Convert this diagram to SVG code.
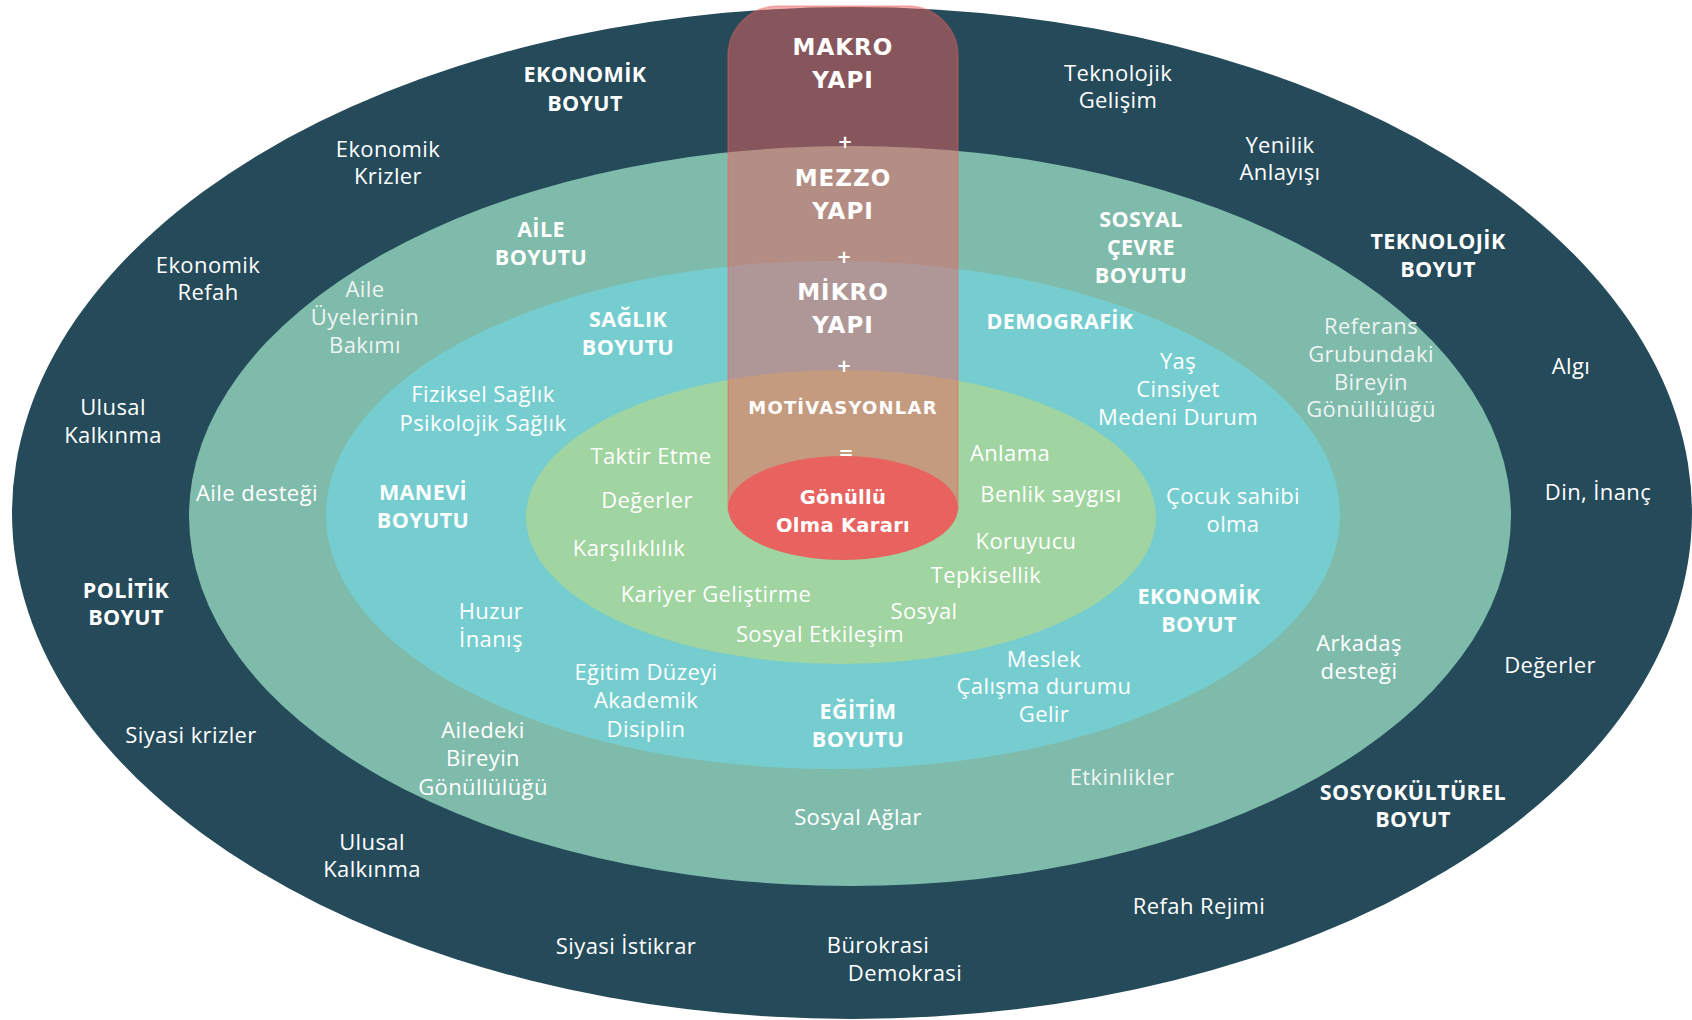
<svg xmlns="http://www.w3.org/2000/svg" width="1692" height="1020" viewBox="0 0 1692 1020">
<style>
.t{font-family:"Open Sans","Liberation Sans",sans-serif;font-size:22px;letter-spacing:0.4px;fill:#fff;text-anchor:middle}
.b{font-weight:700;font-size:21.5px}
.c{font-family:"DejaVu Sans","Liberation Sans",sans-serif;font-weight:700;font-size:23px;letter-spacing:1px;fill:#fff;text-anchor:middle}
.p{font-size:18px;letter-spacing:0}
.m{font-size:18px;letter-spacing:1.2px}
.g{font-size:19.5px;letter-spacing:0.3px}
.d{fill:#EEF4F2}
</style>
<rect width="1692" height="1020" fill="#fff"/>
<g id="rings">
<ellipse id="ring-makro" cx="852" cy="513" rx="840" ry="506" fill="#254A5A"/>
<ellipse id="ring-mezzo" cx="850" cy="516" rx="661" ry="370" fill="#7FBBAB"/>
<ellipse id="ring-mikro" cx="833" cy="515" rx="507" ry="254" fill="#76CDCF"/>
<ellipse id="ring-motivasyon" cx="841" cy="517" rx="315" ry="147" fill="#A0D4A0"/>
</g>
<g id="column">
<path d="M728,510 V56 A50,50 0 0 1 778,6 H908 A50,50 0 0 1 958,56 V510 Z" fill="#E9615F" fill-opacity="0.5" stroke="#E9615F" stroke-opacity="0.4" stroke-width="1.5"/>
<ellipse id="karar" cx="843" cy="508" rx="115" ry="52" fill="#E8635F"/>
</g>
<g id="column-text">
<text class="c" x="843" y="55">MAKRO</text>
<text class="c" x="843" y="88">YAPI</text>
<text class="c p" x="845" y="148">+</text>
<text class="c" x="843" y="186">MEZZO</text>
<text class="c" x="843" y="219">YAPI</text>
<text class="c p" x="844" y="263">+</text>
<text class="c" x="843" y="300">MİKRO</text>
<text class="c" x="843" y="333">YAPI</text>
<text class="c p" x="844" y="372">+</text>
<text class="c m" x="843" y="414">MOTİVASYONLAR</text>
<text class="c p" x="846" y="459">=</text>
<text class="c g" x="843" y="504">Gönüllü</text>
<text class="c g" x="843" y="532">Olma Kararı</text>
</g>
<g id="makro-text">
<text class="t b" x="585" y="82">EKONOMİK</text>
<text class="t b" x="585" y="111">BOYUT</text>
<text class="t" x="388" y="157">Ekonomik</text>
<text class="t" x="388" y="184">Krizler</text>
<text class="t" x="208" y="273">Ekonomik</text>
<text class="t" x="208" y="300">Refah</text>
<text class="t" x="113" y="415">Ulusal</text>
<text class="t" x="113" y="443">Kalkınma</text>
<text class="t b" x="126" y="598">POLİTİK</text>
<text class="t b" x="126" y="625">BOYUT</text>
<text class="t" x="191" y="743">Siyasi krizler</text>
<text class="t" x="372" y="850">Ulusal</text>
<text class="t" x="372" y="877">Kalkınma</text>
<text class="t" x="626" y="954">Siyasi İstikrar</text>
<text class="t" x="878" y="953">Bürokrasi</text>
<text class="t" x="905" y="981">Demokrasi</text>
<text class="t" x="1199" y="914">Refah Rejimi</text>
<text class="t b" x="1413" y="800">SOSYOKÜLTÜREL</text>
<text class="t b" x="1413" y="827">BOYUT</text>
<text class="t" x="1550" y="673">Değerler</text>
<text class="t" x="1598" y="500">Din, İnanç</text>
<text class="t" x="1571" y="374">Algı</text>
<text class="t b" x="1438" y="249">TEKNOLOJİK</text>
<text class="t b" x="1438" y="277">BOYUT</text>
<text class="t" x="1280" y="153">Yenilik</text>
<text class="t" x="1280" y="180">Anlayışı</text>
<text class="t" x="1118" y="81">Teknolojik</text>
<text class="t" x="1118" y="108">Gelişim</text>
</g>
<g id="mezzo-text">
<text class="t b" x="541" y="237">AİLE</text>
<text class="t b" x="541" y="265">BOYUTU</text>
<text class="t d" x="365" y="297">Aile</text>
<text class="t d" x="365" y="325">Üyelerinin</text>
<text class="t d" x="365" y="353">Bakımı</text>
<text class="t" x="257" y="501">Aile desteği</text>
<text class="t" x="483" y="738">Ailedeki</text>
<text class="t" x="483" y="766">Bireyin</text>
<text class="t" x="483" y="795">Gönüllülüğü</text>
<text class="t" x="858" y="825">Sosyal Ağlar</text>
<text class="t d" x="1122" y="785">Etkinlikler</text>
<text class="t" x="1359" y="651">Arkadaş</text>
<text class="t" x="1359" y="679">desteği</text>
<text class="t d" x="1371" y="334">Referans</text>
<text class="t d" x="1371" y="362">Grubundaki</text>
<text class="t d" x="1371" y="390">Bireyin</text>
<text class="t d" x="1371" y="417">Gönüllülüğü</text>
<text class="t b" x="1141" y="227">SOSYAL</text>
<text class="t b" x="1141" y="255">ÇEVRE</text>
<text class="t b" x="1141" y="283">BOYUTU</text>
</g>
<g id="mikro-text">
<text class="t b" x="628" y="327">SAĞLIK</text>
<text class="t b" x="628" y="355">BOYUTU</text>
<text class="t" x="483" y="402">Fiziksel Sağlık</text>
<text class="t" x="483" y="431">Psikolojik Sağlık</text>
<text class="t b" x="423" y="500">MANEVİ</text>
<text class="t b" x="423" y="528">BOYUTU</text>
<text class="t" x="491" y="619">Huzur</text>
<text class="t" x="491" y="647">İnanış</text>
<text class="t" x="646" y="680">Eğitim Düzeyi</text>
<text class="t" x="646" y="708">Akademik</text>
<text class="t" x="646" y="737">Disiplin</text>
<text class="t b" x="858" y="719">EĞİTİM</text>
<text class="t b" x="858" y="747">BOYUTU</text>
<text class="t" x="1044" y="667">Meslek</text>
<text class="t" x="1044" y="694">Çalışma durumu</text>
<text class="t" x="1044" y="722">Gelir</text>
<text class="t b" x="1199" y="604">EKONOMİK</text>
<text class="t b" x="1199" y="632">BOYUT</text>
<text class="t" x="1233" y="504">Çocuk sahibi</text>
<text class="t" x="1233" y="532">olma</text>
<text class="t" x="1178" y="369">Yaş</text>
<text class="t" x="1178" y="397">Cinsiyet</text>
<text class="t" x="1178" y="425">Medeni Durum</text>
<text class="t b" x="1060" y="329">DEMOGRAFİK</text>
</g>
<g id="motivasyon-text">
<text class="t" x="651" y="464">Taktir Etme</text>
<text class="t" x="647" y="508">Değerler</text>
<text class="t" x="629" y="556">Karşılıklılık</text>
<text class="t" x="716" y="602">Kariyer Geliştirme</text>
<text class="t" x="820" y="642">Sosyal Etkileşim</text>
<text class="t" x="924" y="619">Sosyal</text>
<text class="t" x="986" y="583">Tepkisellik</text>
<text class="t" x="1026" y="549">Koruyucu</text>
<text class="t" x="1051" y="502">Benlik saygısı</text>
<text class="t" x="1010" y="461">Anlama</text>
</g>
</svg>
